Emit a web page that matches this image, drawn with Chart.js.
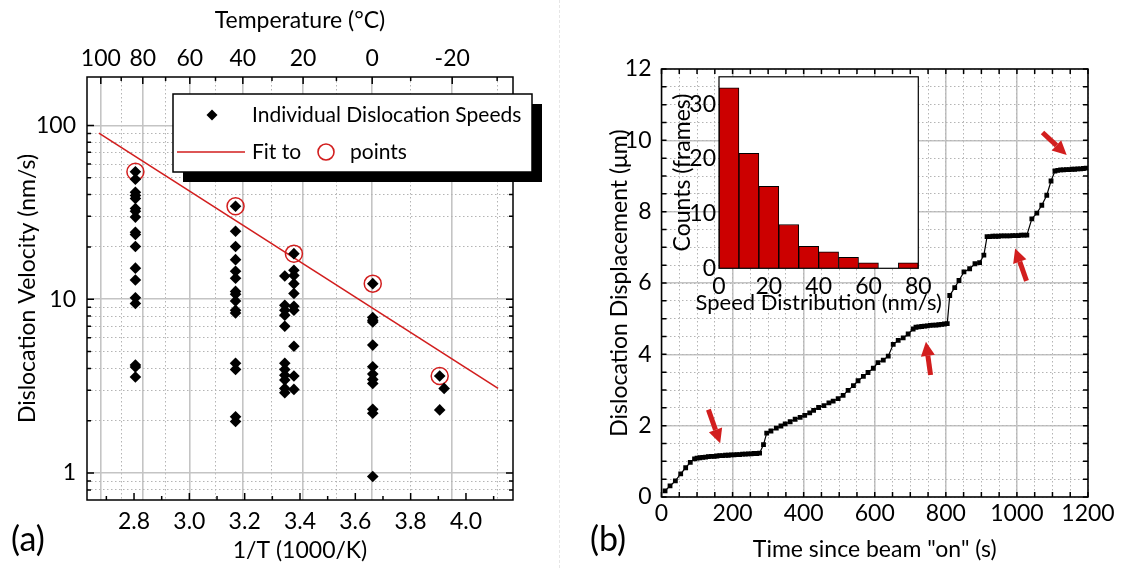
<!DOCTYPE html>
<html>
<head>
<meta charset="utf-8">
<script src="https://cdn.jsdelivr.net/npm/chart.js@4/dist/chart.umd.min.js"></script>
<style>
	body { margin: 0; background: #fff; }
	#wrap { position: relative; width: 1123px; height: 568px; overflow: hidden; }
	canvas { position: absolute; }
	#sep { position: absolute; left: 559px; top: 0; width: 0; height: 568px; border-left: 1px dashed #e6e6e6; }
</style>
</head>
<body>
<div id="wrap">
	<div id="sep"></div>
	<canvas id="left" width="560" height="568" style="left:0;top:0"></canvas>
	<canvas id="right" width="563" height="568" style="left:560px;top:0"></canvas>
	<canvas id="inset" width="300" height="260" style="left:660px;top:60px"></canvas>
</div>
<script>
/*******************************************************************************
 * Datos
 *******************************************************************************/

// (a) speeds vs 1/T
var tempMajor = [100, 80, 60, 40, 20, 0, -20];
var tempMinor = [90, 70, 50, 30, 10, -10, -30];
var invTTicks = [2.8, 3.0, 3.2, 3.4, 3.6, 3.8, 4.0];
var invTMinor = [2.7, 2.9, 3.1, 3.3, 3.5, 3.7, 3.9, 4.1];
var speedTicks = [1, 10, 100];
var speedMinor = [0.8, 0.9, 2, 3, 4, 5, 6, 7, 8, 9, 20, 30, 40, 50, 60, 70, 80, 90];

var colX = [2.805, 3.167, 3.345, 3.378, 3.663, 3.905, 3.921];
var speeds83C = [54.2, 49, 41.3, 39.5, 38, 33.3, 32.1, 29.7, 24.3, 23.6, 20.1, 15.1, 12.9, 10.2, 9.45, 4.19, 4.08, 3.57];
var speeds43C = [34.3, 24.6, 20.1, 16.9, 14.5, 13.2, 11.1, 10.7, 9.78, 8.65, 8.34, 4.28, 3.95, 2.11, 1.98];
var speeds26C = [13.6, 9.24, 8.65, 8.1, 7.0, 4.28, 3.95, 3.66, 3.43, 3.07, 2.9];
var speeds23C = [18.3, 14.7, 13.7, 12.3, 10.8, 9.12, 8.65, 5.37, 3.62, 3.03];
var speeds0C = [12.3, 7.85, 7.58, 7.41, 5.45, 4.09, 3.71, 3.46, 3.28, 2.33, 2.21, 0.956];
var speedsM17C = [3.62, 2.31];
var speedsM18C = [3.07];
var speedCols = [speeds83C, speeds43C, speeds26C, speeds23C, speeds0C, speedsM17C, speedsM18C];

var fitPtsX = [2.805, 3.167, 3.378, 3.663, 3.905];
var fitPtsY = [54.2, 34.3, 18.3, 12.3, 3.62];
var fitLineX = [2.673, 4.116];
var fitLineY = [90.4, 3.07];

// (b) displacement vs time
var timeS = [10, 24, 39, 54, 68, 81, 93,
	100, 108, 116, 124, 132, 140, 148, 156, 164, 172, 180, 188, 196, 204, 212, 220, 228, 236, 244, 252, 260, 268, 276,
	287, 296, 308, 323, 336, 348, 362, 376, 390, 403, 417, 428, 442, 457, 471, 483, 497, 511, 525, 540,
	553, 568, 581, 596, 609, 624, 638, 652, 666, 680, 694, 708,
	716, 724, 732, 740, 748, 756, 764, 772, 780, 788, 796, 804,
	811, 825, 837, 851, 867, 882, 895, 907,
	916, 924, 932, 940, 948, 956, 964, 972, 980, 988, 996, 1004, 1012, 1020, 1028,
	1042, 1056, 1070, 1084, 1096, 1107,
	1115, 1123, 1131, 1139, 1147, 1155, 1163, 1171, 1179, 1187, 1195];
var dispUm = [0.17, 0.31, 0.45, 0.65, 0.82, 0.97, 1.07,
	1.09, 1.10, 1.11, 1.12, 1.13, 1.14, 1.14, 1.15, 1.16, 1.16, 1.17, 1.17, 1.18, 1.18, 1.19, 1.19, 1.20, 1.20, 1.21, 1.21, 1.22, 1.22, 1.23,
	1.47, 1.79, 1.85, 1.93, 1.99, 2.05, 2.11, 2.18, 2.23, 2.29, 2.36, 2.43, 2.51, 2.56, 2.64, 2.69, 2.76, 2.85, 2.99, 3.12,
	3.26, 3.38, 3.49, 3.61, 3.77, 3.84, 3.95, 4.28, 4.39, 4.46, 4.57, 4.71,
	4.76, 4.77, 4.78, 4.79, 4.80, 4.81, 4.82, 4.82, 4.83, 4.84, 4.85, 4.86,
	5.65, 5.87, 6.07, 6.31, 6.40, 6.54, 6.57, 6.78,
	7.30, 7.30, 7.31, 7.31, 7.31, 7.32, 7.32, 7.32, 7.32, 7.33, 7.33, 7.33, 7.34, 7.34, 7.34,
	7.80, 7.96, 8.18, 8.46, 8.86, 9.14,
	9.16, 9.17, 9.17, 9.18, 9.18, 9.19, 9.19, 9.20, 9.20, 9.21, 9.22];

var arrowFrom = [[132, 2.45], [757, 3.42], [1027, 6.06], [1072, 10.22]];
var arrowTo = [[165, 1.51], [744, 4.35], [995, 6.97], [1140, 9.59]];

// inset histogram
var binCenters = [4, 12, 20, 28, 36, 44, 52, 60, 68, 76];
var binCounts = [33, 21, 15, 8, 4, 3, 2, 1, 0, 1];

/*******************************************************************************
 * Estilo y ayudas
 *******************************************************************************/

var FAMILY = 'Lato, "DejaVu Sans", sans-serif';
Chart.defaults.font.family = FAMILY;
Chart.defaults.font.size = 23;
Chart.defaults.color = '#000';

var RED = '#d21e1e';
var GRID = '#c4c4c4';
var GRID_MINOR = '#b4b4b4';

function toInvT(c) { return 1000 / (c + 273.15); }

function setTicks(values) {
	return function (scale) {
		scale.ticks = values.map(function (v) { return { value: v }; });
	};
}

function fixWidth(w) { return function (scale) { scale.width = w; }; }
function fixHeight(h) { return function (scale) { scale.height = h; }; }

function minorAxis(type, position, min, max, values, step) {
	var horiz = position === 'top' || position === 'bottom';
	var ax = {
		type: type, position: position, min: min, max: max,
		ticks: { display: false },
		grid: { color: GRID_MINOR, lineWidth: 1, drawTicks: false },
		border: { display: false, dash: [1.5, 2.5] },
		afterFit: horiz ? fixHeight(0) : fixWidth(0)
	};
	if (values) ax.afterBuildTicks = setTicks(values);
	if (step) ax.ticks.stepSize = step;
	return ax;
}

var framePlugin = {
	id: 'frame',
	beforeDraw: function (chart, args, opts) {
		if (!opts.fill) return;
		var a = chart.chartArea, ctx = chart.ctx;
		ctx.save();
		ctx.fillStyle = opts.fill;
		ctx.fillRect(a.left, a.top, a.right - a.left, a.bottom - a.top);
		ctx.restore();
	},
	afterDraw: function (chart, args, opts) {
		var a = chart.chartArea, ctx = chart.ctx;
		ctx.save();
		ctx.strokeStyle = '#000';
		ctx.lineWidth = opts.width || 1.5;
		(opts.marks || []).forEach(function (m) {
			var s = chart.scales[m.scale];
			m.values.forEach(function (v) {
				var p = s.getPixelForValue(v);
				ctx.beginPath();
				m.sides.forEach(function (side) {
					if (side === 'bottom') { ctx.moveTo(p, a.bottom); ctx.lineTo(p, a.bottom - m.len); }
					if (side === 'top') { ctx.moveTo(p, a.top); ctx.lineTo(p, a.top + m.len); }
					if (side === 'left') { ctx.moveTo(a.left, p); ctx.lineTo(a.left + m.len, p); }
					if (side === 'right') { ctx.moveTo(a.right, p); ctx.lineTo(a.right - m.len, p); }
				});
				ctx.stroke();
			});
		});
		ctx.strokeRect(a.left, a.top, a.right - a.left, a.bottom - a.top);
		ctx.fillStyle = '#000';
		ctx.textBaseline = 'middle';
		ctx.textAlign = 'center';
		if (opts.label) {
			ctx.font = '34px ' + FAMILY;
			ctx.fillText(opts.label, opts.labelX, opts.labelY);
		}
		// x title that may be wider than the plot area
		if (opts.caption) {
			ctx.font = '22px ' + FAMILY;
			ctx.fillText(opts.caption, (a.left + a.right) / 2, opts.captionY);
		}
		ctx.restore();
	}
};

// legend with drop shadow, panel (a)
var boxLegendPlugin = {
	id: 'boxLegend',
	afterDraw: function (chart) {
		var ctx = chart.ctx, a = chart.chartArea;
		var x = a.left + 86, y = a.top + 17, w = 359, h = 78;
		ctx.save();
		ctx.fillStyle = '#000';
		ctx.fillRect(x + 10, y + 10, w, h);
		ctx.fillStyle = '#fff';
		ctx.fillRect(x, y, w, h);
		ctx.strokeStyle = '#000';
		ctx.lineWidth = 1.5;
		ctx.strokeRect(x, y, w, h);

		// diamond
		ctx.fillStyle = '#000';
		ctx.beginPath();
		ctx.moveTo(x + 39, y + 21 - 5.5);
		ctx.lineTo(x + 39 + 5.5, y + 21);
		ctx.lineTo(x + 39, y + 21 + 5.5);
		ctx.lineTo(x + 39 - 5.5, y + 21);
		ctx.closePath();
		ctx.fill();

		// red line + circle
		ctx.strokeStyle = RED;
		ctx.lineWidth = 1.6;
		ctx.beginPath();
		ctx.moveTo(x + 4, y + 58);
		ctx.lineTo(x + 72, y + 58);
		ctx.stroke();
		ctx.beginPath();
		ctx.arc(x + 153, y + 58, 8, 0, 2 * Math.PI);
		ctx.stroke();

		ctx.fillStyle = '#000';
		ctx.font = '21px ' + FAMILY;
		ctx.textAlign = 'left';
		ctx.textBaseline = 'middle';
		ctx.fillText('Individual Dislocation Speeds', x + 79, y + 21);
		ctx.fillText('Fit to', x + 79, y + 58);
		ctx.fillText('points', x + 177, y + 58);
		ctx.restore();
	}
};

var arrowPlugin = {
	id: 'arrows',
	afterDatasetsDraw: function (chart) {
		var ctx = chart.ctx, sx = chart.scales.x, sy = chart.scales.y;
		ctx.save();
		ctx.strokeStyle = RED;
		ctx.fillStyle = RED;
		ctx.lineWidth = 5;
		arrowFrom.forEach(function (f, i) {
			var x1 = sx.getPixelForValue(f[0]), y1 = sy.getPixelForValue(f[1]);
			var x2 = sx.getPixelForValue(arrowTo[i][0]), y2 = sy.getPixelForValue(arrowTo[i][1]);
			var ang = Math.atan2(y2 - y1, x2 - x1), head = 14, half = 7;
			var bx = x2 - head * Math.cos(ang), by = y2 - head * Math.sin(ang);
			ctx.beginPath();
			ctx.moveTo(x1, y1);
			ctx.lineTo(bx, by);
			ctx.stroke();
			ctx.beginPath();
			ctx.moveTo(x2, y2);
			ctx.lineTo(bx + half * Math.sin(ang), by - half * Math.cos(ang));
			ctx.lineTo(bx - half * Math.sin(ang), by + half * Math.cos(ang));
			ctx.closePath();
			ctx.fill();
		});
		ctx.restore();
	}
};

/*******************************************************************************
 * (a)
 *******************************************************************************/

var speedPoints = [];
speedCols.forEach(function (col, i) {
	col.forEach(function (v) { speedPoints.push({ x: colX[i], y: v }); });
});
var fitPoints = fitPtsX.map(function (x, i) { return { x: x, y: fitPtsY[i] }; });
var fitLine = fitLineX.map(function (x, i) { return { x: x, y: fitLineY[i] }; });

var X_MIN = 2.63, X_MAX = 4.17;

new Chart(document.getElementById('left'), {
	type: 'scatter',
	data: {
		datasets: [{
			label: 'Individual Dislocation Speeds',
			data: speedPoints,
			pointStyle: 'rectRot',
			pointRadius: 5.8,
			backgroundColor: '#000',
			borderColor: '#000',
			borderWidth: 0
		}, {
			label: 'Fit',
			data: fitLine,
			showLine: true,
			borderColor: RED,
			borderWidth: 1.6,
			pointRadius: 0
		}, {
			label: 'points',
			data: fitPoints,
			pointStyle: 'circle',
			pointRadius: 8.5,
			backgroundColor: 'rgba(0,0,0,0)',
			borderColor: RED,
			borderWidth: 1.5
		}]
	},
	options: {
		responsive: false,
		animation: false,
		events: [],
		layout: { padding: { right: 47 } },
		plugins: {
			legend: { display: false },
			tooltip: { enabled: false },
			frame: {
				label: '(a)', labelX: 28, labelY: 540,
				marks: [
					{ scale: 'xTop', values: tempMajor.map(toInvT), len: 7, sides: ['top'] },
					{ scale: 'xTop', values: tempMinor.map(toInvT), len: 4, sides: ['top'] },
					{ scale: 'x', values: invTTicks, len: 7, sides: ['bottom'] },
					{ scale: 'x', values: invTMinor, len: 4, sides: ['bottom'] },
					{ scale: 'y', values: speedTicks, len: 7, sides: ['left', 'right'] },
					{ scale: 'y', values: speedMinor, len: 4, sides: ['left', 'right'] }
				]
			}
		},
		scales: {
			x: {
				type: 'linear', position: 'bottom', min: X_MIN, max: X_MAX,
				afterBuildTicks: setTicks(invTTicks),
				ticks: { callback: function (v) { return v.toFixed(1); }, padding: 8, autoSkip: false, maxRotation: 0 },
				grid: { display: false, drawTicks: false },
				border: { display: false },
				title: { display: true, text: '1/T (1000/K)', padding: { bottom: 4 } },
				afterFit: fixHeight(68)
			},
			xTop: {
				type: 'linear', position: 'top', min: X_MIN, max: X_MAX,
				afterBuildTicks: setTicks(tempMajor.map(toInvT)),
				ticks: { callback: function (v) { return String(Math.round(1000 / v - 273.15)); }, padding: 5, autoSkip: false, maxRotation: 0 },
				grid: { color: GRID, lineWidth: 1.6, drawTicks: false },
				border: { display: false },
				title: { display: true, text: 'Temperature (°C)', padding: { top: 7 } },
				afterFit: fixHeight(77)
			},
			xTopMinor: minorAxis('linear', 'top', X_MIN, X_MAX, tempMinor.map(toInvT)),
			y: {
				type: 'logarithmic', position: 'left', min: 0.7, max: 190,
				afterBuildTicks: setTicks(speedTicks),
				ticks: { callback: function (v) { return String(v); }, padding: 11, autoSkip: false },
				grid: { color: GRID, lineWidth: 1.6, drawTicks: false },
				border: { display: false },
				title: { display: true, text: 'Dislocation Velocity (nm/s)', padding: { top: 14 } },
				afterFit: fixWidth(87)
			},
			yMinor: minorAxis('logarithmic', 'left', 0.7, 190, speedMinor)
		}
	},
	plugins: [framePlugin, boxLegendPlugin]
});

/*******************************************************************************
 * (b)
 *******************************************************************************/

var dispPoints = timeS.map(function (t, i) { return { x: t, y: dispUm[i] }; });

function range(a, b, step) {
	var out = [];
	for (var v = a; v <= b + 1e-9; v += step) out.push(+v.toFixed(3));
	return out;
}

new Chart(document.getElementById('right'), {
	type: 'scatter',
	data: {
		datasets: [{
			label: 'Displacement',
			data: dispPoints,
			showLine: true,
			borderColor: '#000',
			borderWidth: 1.2,
			pointStyle: 'rect',
			pointRadius: 3.4,
			backgroundColor: '#000',
			pointBorderWidth: 0
		}]
	},
	options: {
		responsive: false,
		animation: false,
		events: [],
		layout: { padding: { top: 69, right: 35 } },
		plugins: {
			legend: { display: false },
			tooltip: { enabled: false },
			frame: {
				label: '(b)', labelX: 48, labelY: 540,
				marks: [
					{ scale: 'x', values: range(0, 1200, 50), len: 5, sides: ['top', 'bottom'] },
					{ scale: 'y', values: range(0, 12, 0.5), len: 5, sides: ['left', 'right'] }
				]
			}
		},
		scales: {
			x: {
				type: 'linear', position: 'bottom', min: 0, max: 1200,
				ticks: { stepSize: 200, padding: 3, autoSkip: false, maxRotation: 0, callback: function (v) { return String(v); } },
				grid: { color: GRID, lineWidth: 1.6, drawTicks: false },
				border: { display: false },
				title: { display: true, text: 'Time since beam "on" (s)', padding: { bottom: 5 } },
				afterFit: fixHeight(71)
			},
			xMinor: minorAxis('linear', 'bottom', 0, 1200, null, 50),
			y: {
				type: 'linear', position: 'left', min: 0, max: 12,
				ticks: { stepSize: 2, padding: 10 },
				grid: { color: GRID, lineWidth: 1.6, drawTicks: false },
				border: { display: false },
				title: { display: true, text: 'Dislocation Displacement (μm)', padding: { top: 46 } },
				afterFit: fixWidth(101.5)
			},
			yMinor: minorAxis('linear', 'left', 0, 12, null, 0.5)
		}
	},
	plugins: [framePlugin, arrowPlugin]
});

/*******************************************************************************
 * Inset
 *******************************************************************************/

new Chart(document.getElementById('inset'), {
	type: 'bar',
	data: {
		datasets: [{
			label: 'Counts',
			data: binCenters.map(function (c, i) { return { x: c, y: binCounts[i] }; }),
			backgroundColor: '#cc0000',
			borderColor: '#000',
			borderWidth: 1,
			barPercentage: 1,
			categoryPercentage: 1
		}]
	},
	options: {
		responsive: false,
		animation: false,
		events: [],
		layout: { padding: { top: 9, right: 41.7 } },
		plugins: {
			legend: { display: false },
			tooltip: { enabled: false },
			frame: { fill: '#fff', width: 1.2, caption: 'Speed Distribution (nm/s)', captionY: 243 }
		},
		scales: {
			x: {
				type: 'linear', min: 0, max: 80, offset: false,
				ticks: { stepSize: 20, padding: 4, maxRotation: 0 },
				grid: { display: false, offset: false, drawTicks: false },
				border: { display: false },
				afterFit: fixHeight(51.7)
			},
			y: {
				type: 'linear', min: 0, max: 35,
				ticks: { stepSize: 10, padding: 3, includeBounds: false },
				grid: { display: false, drawTicks: false },
				border: { display: false },
				title: { display: true, text: 'Counts (frames)', padding: { top: 9 } },
				afterFit: fixWidth(59)
			}
		}
	},
	plugins: [framePlugin]
});
</script>
</body>
</html>
